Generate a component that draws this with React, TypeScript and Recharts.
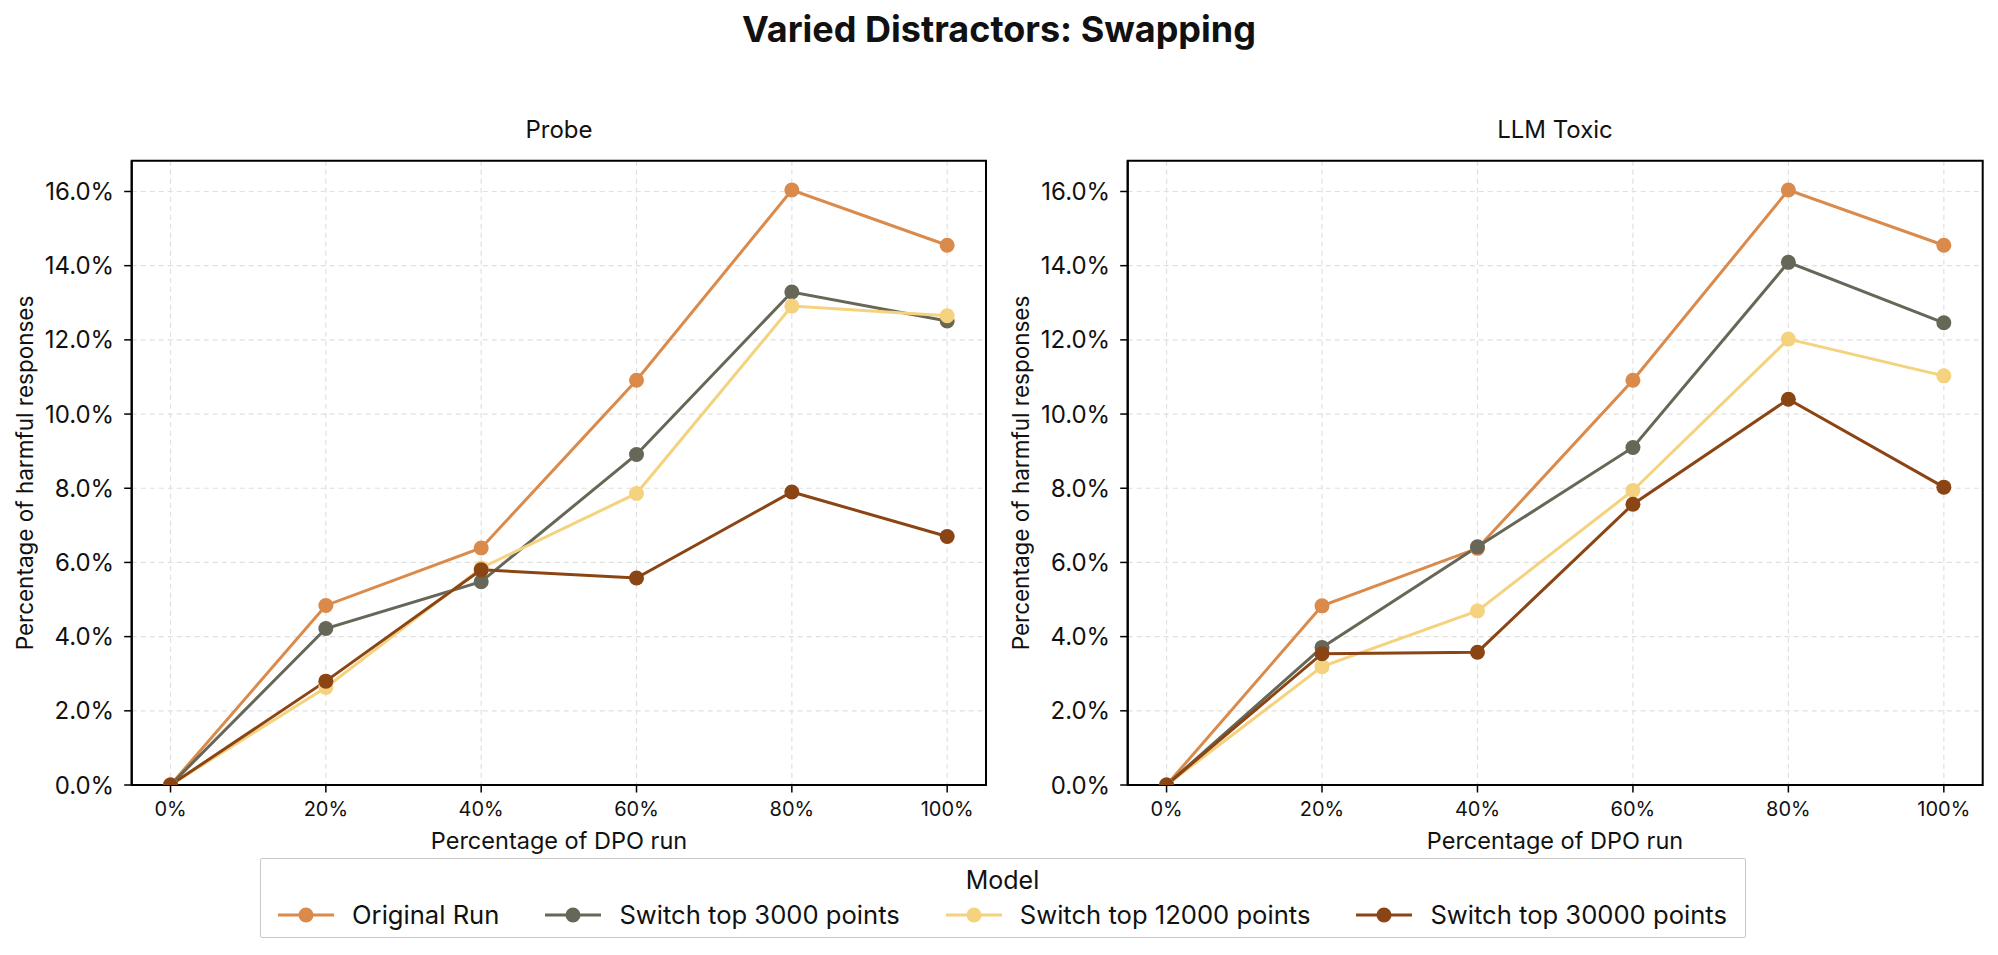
import React from 'react';
import { LineChart, Line, XAxis, YAxis, CartesianGrid, ReferenceArea } from 'recharts';

const categories = [0, 20, 40, 60, 80, 100];
const xTicks = [0, 20, 40, 60, 80, 100];
const yTicks = [0, 2, 4, 6, 8, 10, 12, 14, 16];

const probeOriginal = [0, 4.84, 6.39, 10.91, 16.04, 14.55];
const probeTop3000 = [0, 4.22, 5.48, 8.91, 13.29, 12.51];
const probeTop12000 = [0, 2.63, 5.85, 7.86, 12.91, 12.65];
const probeTop30000 = [0, 2.8, 5.8, 5.58, 7.9, 6.7];

const toxicOriginal = [0, 4.83, 6.38, 10.91, 16.04, 14.55];
const toxicTop3000 = [0, 3.71, 6.42, 9.1, 14.09, 12.46];
const toxicTop12000 = [0, 3.19, 4.69, 7.94, 12.02, 11.03];
const toxicTop30000 = [0, 3.54, 3.58, 7.57, 10.4, 8.03];

const seriesNames = ['Original Run', 'Switch top 3000 points', 'Switch top 12000 points', 'Switch top 30000 points'];
const seriesKeys = ['orig', 's3000', 's12000', 's30000'];
const seriesColors = ['#DA8A4B', '#676758', '#F4D27E', '#8B4414'];

const FONT = 'Inter, "Noto Sans", sans-serif';

function buildRows(a: number[], b: number[], c: number[], d: number[]) {
  return categories.map((x, i) => ({ x, orig: a[i], s3000: b[i], s12000: c[i], s30000: d[i] }));
}

const probeData = buildRows(probeOriginal, probeTop3000, probeTop12000, probeTop30000);
const toxicData = buildRows(toxicOriginal, toxicTop3000, toxicTop12000, toxicTop30000);

const Y_MAX = 16.83;

function Panel({ data, yAxisWidth, rightMargin, width }: { data: any[]; yAxisWidth: number; rightMargin: number; width: number }) {
  return (
    <LineChart width={width} height={860} data={data} margin={{ top: 160.7, right: rightMargin, left: 0, bottom: 15 }}>
      <CartesianGrid stroke="#e0e0e0" strokeDasharray="5 4" strokeWidth={1.2} />
      <XAxis
        dataKey="x"
        type="number"
        domain={[-5, 105]}
        ticks={xTicks}
        allowDataOverflow
        tickFormatter={(v: number) => `${v}%`}
        height={60}
        tickSize={7.5}
        tickMargin={9}
        axisLine={{ stroke: '#000', strokeWidth: 2 }}
        tickLine={{ stroke: '#000', strokeWidth: 1.5 }}
        tick={{ fill: '#111', fontSize: 20, fontFamily: FONT }}
        interval={0}
      />
      <YAxis
        type="number"
        domain={[0, Y_MAX]}
        ticks={yTicks}
        allowDataOverflow
        tickFormatter={(v: number) => `${v.toFixed(1)}%`}
        width={yAxisWidth}
        tickSize={7.5}
        tickMargin={10}
        axisLine={{ stroke: '#000', strokeWidth: 2 }}
        tickLine={{ stroke: '#000', strokeWidth: 1.5 }}
        tick={{ fill: '#111', fontSize: 24, fontFamily: FONT }}
        interval={0}
      />
      <ReferenceArea x1={-5} x2={105} y1={0} y2={Y_MAX} fill="none" stroke="#000" strokeWidth={2} ifOverflow="visible" />
      {seriesKeys.map((k, i) => (
        <Line
          key={k}
          dataKey={k}
          name={seriesNames[i]}
          stroke={seriesColors[i]}
          strokeWidth={3}
          dot={{ r: 7.5, fill: seriesColors[i], stroke: seriesColors[i], strokeWidth: 0 }}
          activeDot={false}
          isAnimationActive={false}
        />
      ))}
    </LineChart>
  );
}

function TextAt({ x, y, size, children, bold, rotate }: { x: number; y: number; size: number; children: React.ReactNode; bold?: boolean; rotate?: boolean }) {
  return (
    <div
      style={{
        position: 'absolute',
        left: x,
        top: y,
        transform: `translate(-50%, -50%)${rotate ? ' rotate(-90deg)' : ''}`,
        fontSize: size,
        fontWeight: bold ? 700 : 400,
        fontFamily: FONT,
        whiteSpace: 'nowrap',
        lineHeight: 1,
        color: '#111',
      }}
    >
      {children}
    </div>
  );
}

function LegendBox() {
  return (
    <div
      style={{
        position: 'absolute',
        left: 259.5,
        top: 857.7,
        width: 1486,
        height: 80,
        boxSizing: 'border-box',
        border: '1.5px solid #c8c8c8',
        borderRadius: 2,
        fontFamily: FONT,
        color: '#111',
      }}
    >
      <div style={{ position: 'absolute', left: 0, right: 0, top: 21.3 - 13, textAlign: 'center', fontSize: 25, lineHeight: '26px' }}>Model</div>
      <div
        style={{
          position: 'absolute',
          left: 0,
          right: 0,
          top: 56.3 - 15,
          height: 30,
          display: 'flex',
          justifyContent: 'center',
          alignItems: 'center',
          gap: 46,
        }}
      >
        {seriesNames.map((n, i) => (
          <div key={n} style={{ display: 'flex', alignItems: 'center', gap: 18 }}>
            <svg width={56} height={20}>
              <line x1={0} y1={10} x2={56} y2={10} stroke={seriesColors[i]} strokeWidth={3} />
              <circle cx={28} cy={10} r={7.5} fill={seriesColors[i]} />
            </svg>
            <span style={{ fontSize: 25.6, lineHeight: '30px' }}>{n}</span>
          </div>
        ))}
      </div>
    </div>
  );
}

export default function App() {
  return (
    <div style={{ position: 'absolute', left: 0, top: 0, width: 1998, height: 955, background: '#fff', overflow: 'hidden' }}>
      <div style={{ position: 'absolute', left: 0, top: 0 }}>
        <Panel data={probeData} yAxisWidth={131.7} rightMargin={14} width={1000} />
      </div>
      <div style={{ position: 'absolute', left: 1000, top: 0 }}>
        <Panel data={toxicData} yAxisWidth={127.7} rightMargin={15.3} width={998} />
      </div>
      <TextAt x={999} y={29} size={36} bold>Varied Distractors: Swapping</TextAt>
      <TextAt x={559} y={130} size={24}>Probe</TextAt>
      <TextAt x={1555} y={130} size={24}>LLM Toxic</TextAt>
      <TextAt x={25} y={473} size={22.5} rotate>Percentage of harmful responses</TextAt>
      <TextAt x={1021} y={473} size={22.5} rotate>Percentage of harmful responses</TextAt>
      <TextAt x={559} y={841} size={23.5}>Percentage of DPO run</TextAt>
      <TextAt x={1555} y={841} size={23.5}>Percentage of DPO run</TextAt>
      <LegendBox />
    </div>
  );
}
